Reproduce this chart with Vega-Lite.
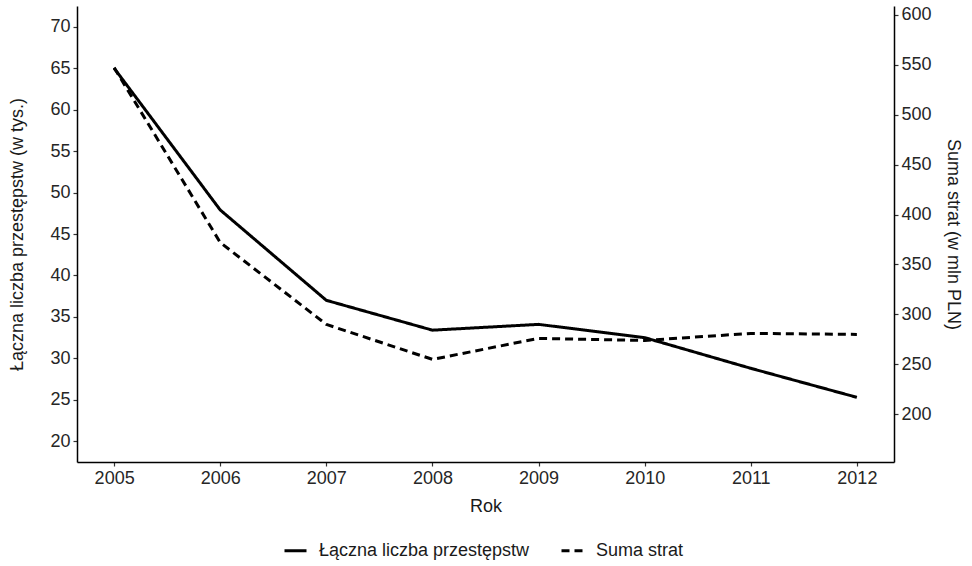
{
  "$schema": "https://vega.github.io/schema/vega-lite/v6.json",
  "width": 817,
  "height": 456,
  "autosize": {"type": "none"},
  "padding": {"left": 77, "top": 6, "right": 78, "bottom": 104},
  "background": "white",
  "config": {
    "view": {"stroke": null},
    "font": "Liberation Sans",
    "axis": {
      "grid": false,
      "domainColor": "black",
      "domainWidth": 1.5,
      "tickColor": "#333",
      "tickWidth": 1.2,
      "tickSize": 4,
      "labelPadding": 3,
      "labelColor": "#262626",
      "titleColor": "#1a1a1a",
      "labelFontSize": 18,
      "titleFontSize": 18,
      "titleFontWeight": "normal"
    },
    "legend": {"labelFontSize": 18, "labelColor": "#1a1a1a", "labelLimit": 400}
  },
  "data": {
    "values": [
      {"year": 2005, "series": "Łączna liczba przestępstw", "value": 65.0},
      {"year": 2006, "series": "Łączna liczba przestępstw", "value": 47.9},
      {"year": 2007, "series": "Łączna liczba przestępstw", "value": 37.0},
      {"year": 2008, "series": "Łączna liczba przestępstw", "value": 33.4},
      {"year": 2009, "series": "Łączna liczba przestępstw", "value": 34.1},
      {"year": 2010, "series": "Łączna liczba przestępstw", "value": 32.5},
      {"year": 2011, "series": "Łączna liczba przestępstw", "value": 28.8},
      {"year": 2012, "series": "Łączna liczba przestępstw", "value": 25.3},
      {"year": 2005, "series": "Suma strat", "value": 547},
      {"year": 2006, "series": "Suma strat", "value": 372},
      {"year": 2007, "series": "Suma strat", "value": 290},
      {"year": 2008, "series": "Suma strat", "value": 255},
      {"year": 2009, "series": "Suma strat", "value": 276},
      {"year": 2010, "series": "Suma strat", "value": 274},
      {"year": 2011, "series": "Suma strat", "value": 281},
      {"year": 2012, "series": "Suma strat", "value": 280}
    ]
  },
  "encoding": {
    "x": {
      "field": "year",
      "type": "quantitative",
      "title": "Rok",
      "scale": {"domain": [2004.65, 2012.35], "nice": false, "zero": false},
      "axis": {"values": [2005, 2006, 2007, 2008, 2009, 2010, 2011, 2012], "format": "d", "titlePadding": 10}
    },
    "strokeDash": {
      "field": "series",
      "type": "nominal",
      "scale": {"domain": ["Łączna liczba przestępstw", "Suma strat"], "range": [[1, 0], [8, 5]]},
      "legend": {
        "orient": "none",
        "legendX": 206,
        "legendY": 532,
        "direction": "horizontal",
        "title": null,
        "symbolType": "stroke",
        "symbolSize": 484,
        "symbolStrokeWidth": 3,
        "symbolStrokeColor": "black",
        "labelOffset": 11,
        "columnPadding": 25
      }
    }
  },
  "layer": [
    {
      "transform": [{"filter": "datum.series === 'Łączna liczba przestępstw'"}],
      "mark": {"type": "line", "color": "black", "strokeWidth": 3, "strokeJoin": "round"},
      "encoding": {
        "y": {
          "field": "value",
          "type": "quantitative",
          "title": "Łączna liczba przestępstw (w tys.)",
          "scale": {"domain": [17.5, 72.5], "nice": false, "zero": false},
          "axis": {"values": [20, 25, 30, 35, 40, 45, 50, 55, 60, 65, 70], "orient": "left", "titlePadding": 23}
        }
      }
    },
    {
      "transform": [{"filter": "datum.series === 'Suma strat'"}],
      "mark": {"type": "line", "color": "black", "strokeWidth": 3, "strokeJoin": "round"},
      "encoding": {
        "y": {
          "field": "value",
          "type": "quantitative",
          "title": "Suma strat (w mln PLN)",
          "scale": {"domain": [152.3, 608.7], "nice": false, "zero": false},
          "axis": {"values": [200, 250, 300, 350, 400, 450, 500, 550, 600], "orient": "right", "titlePadding": 12, "titleAngle": 90}
        }
      }
    }
  ],
  "resolve": {"scale": {"y": "independent"}}
}
